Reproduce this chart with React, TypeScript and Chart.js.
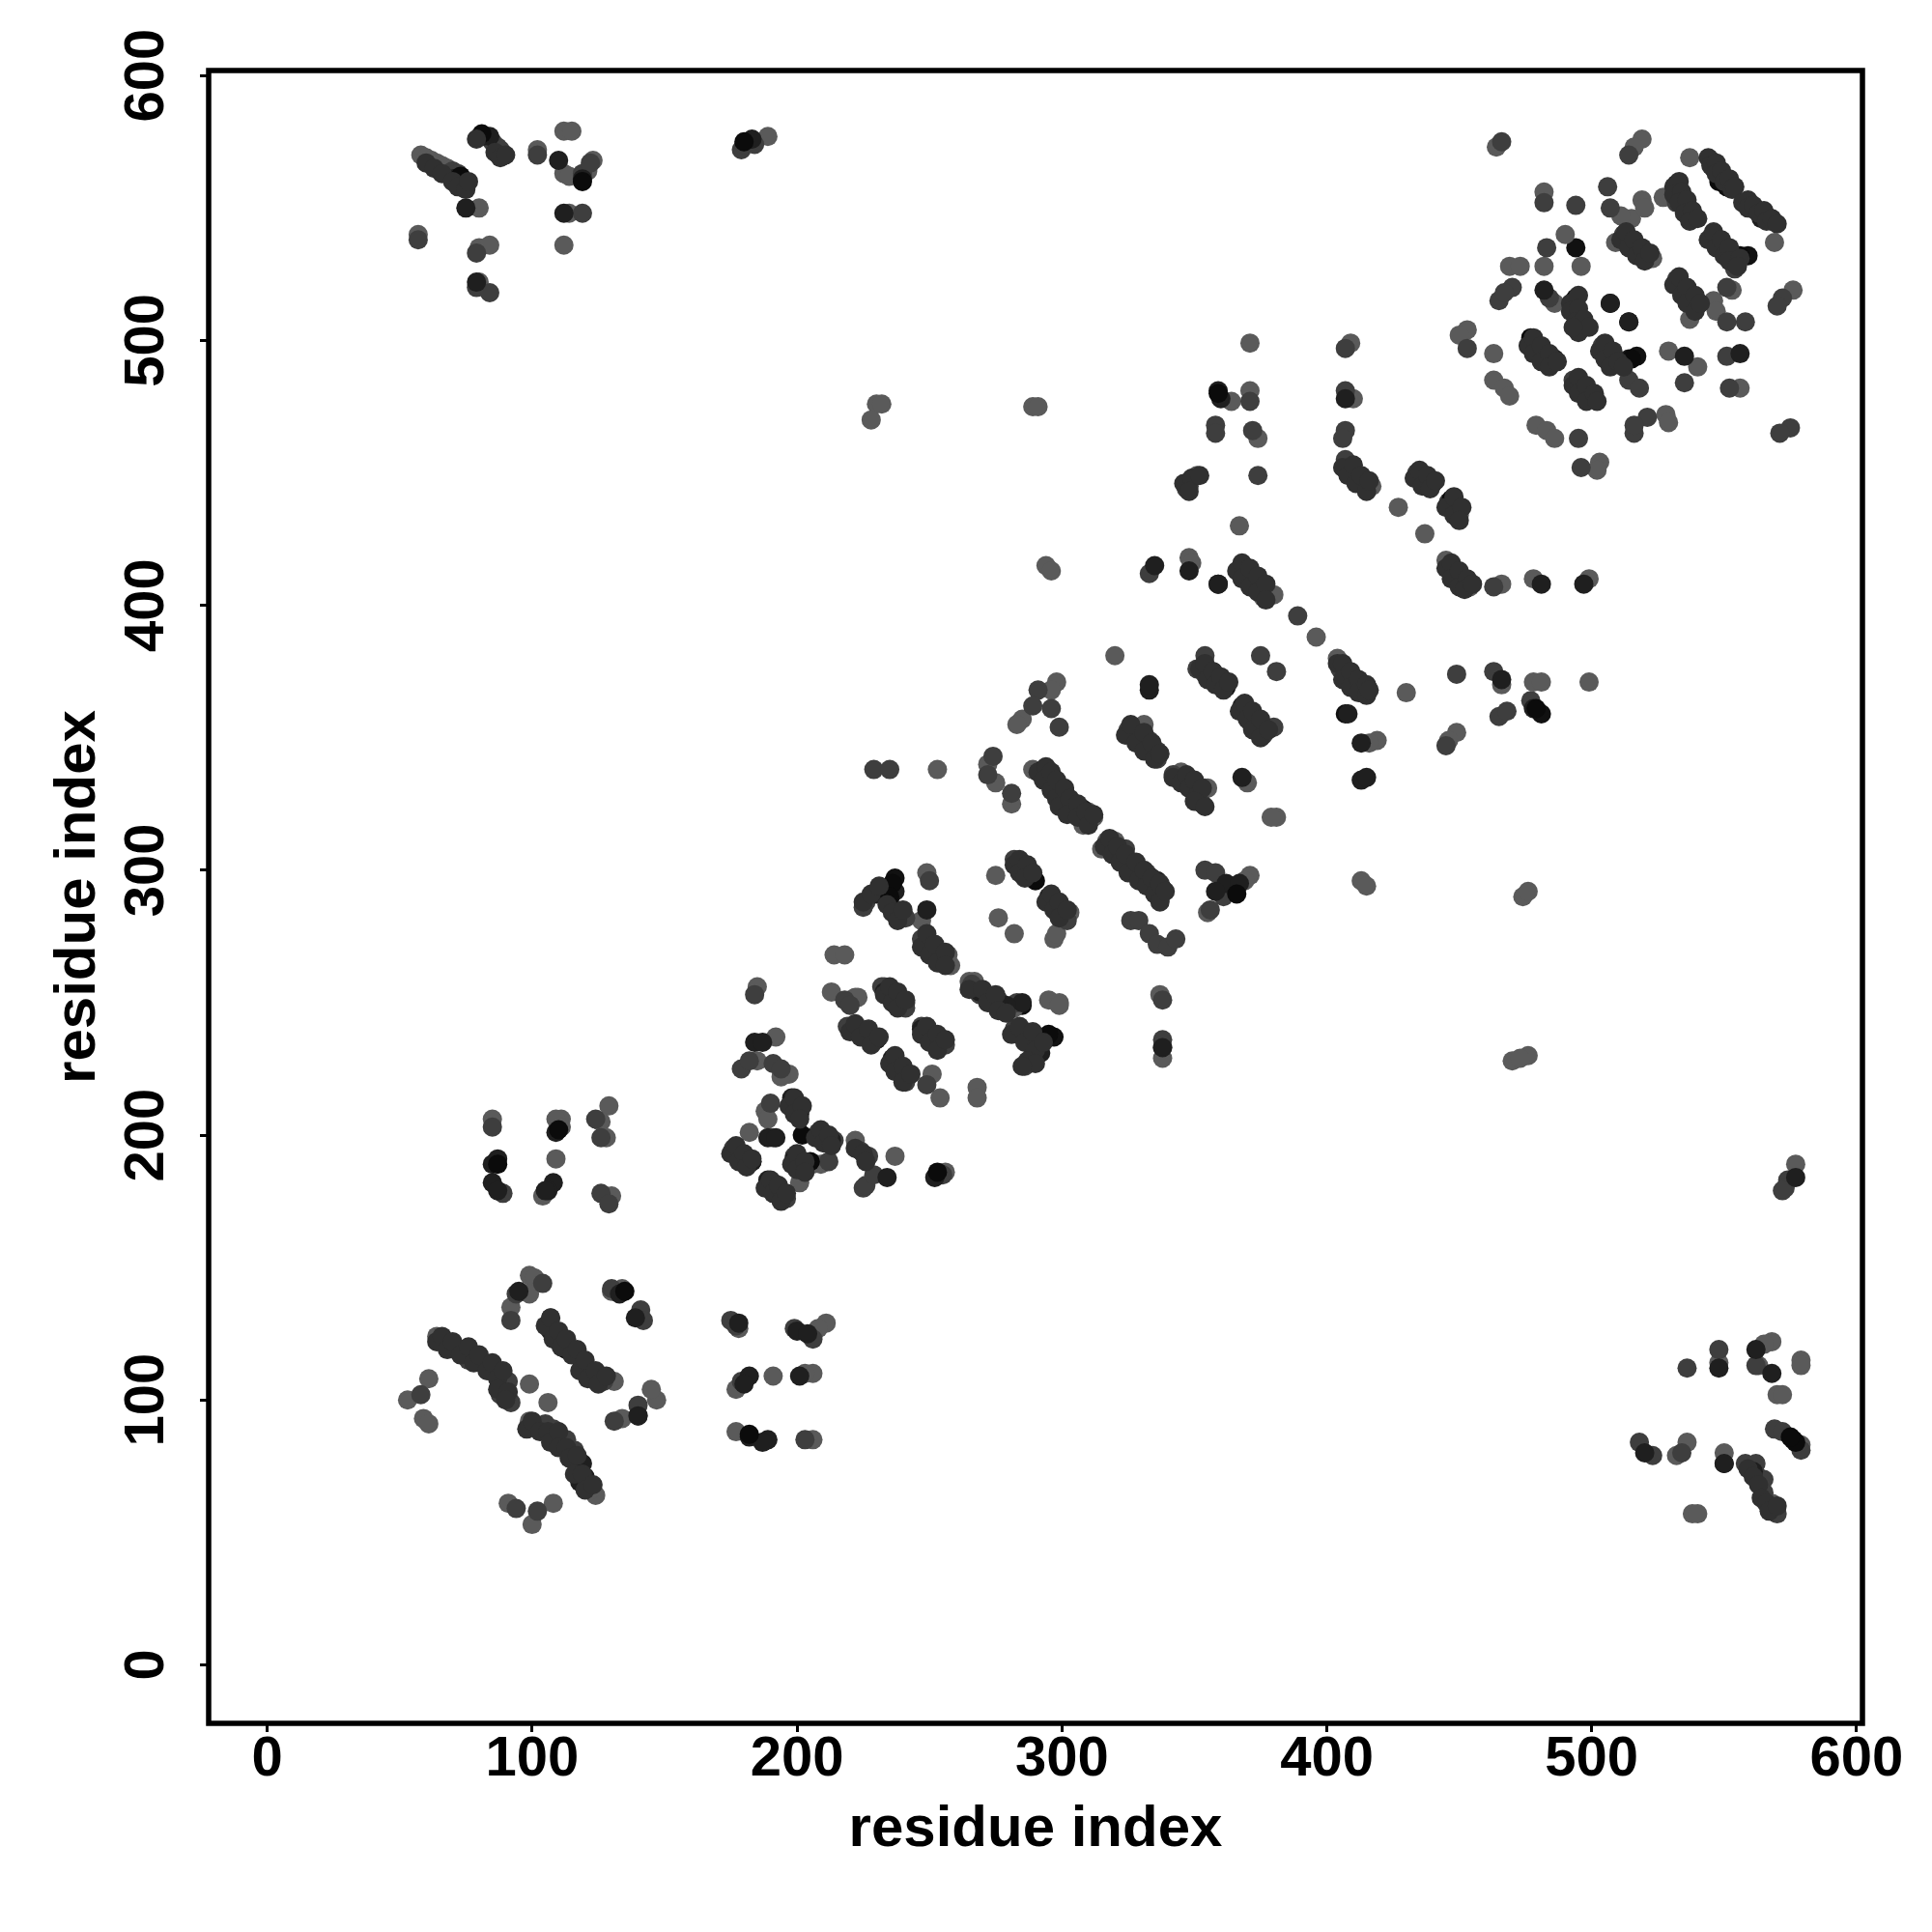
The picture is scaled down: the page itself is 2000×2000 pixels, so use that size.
import React, { useEffect, useRef } from "react";
import { Chart, registerables } from "chart.js";

Chart.register(...registerables);

const axisTicks = [0, 100, 200, 300, 400, 500, 600];
const axisTitle = "residue index";

const weakContacts: number[][] = [
[58,570],[60,569],[62,568],[64,567],[66,566],[68,565],[73,562],[75,559],[57,540],[80,550],[80,535],[84,536],[80,522],
[102,572],[112,579],[115,579],[112,563],[114,562],[121,564],[123,568],[114,548],[189,577],[112,536],
[464,573],[519,576],[516,573],[537,569],[569,537],[482,556],[515,546],[511,547],[519,553],[520,550],[527,554],[490,540],[496,528],[482,528],[469,528],[473,528],[509,537],[523,531],[486,514],[497,505],[537,508],[553,519],[546,515],[547,511],[576,519],[371,499],[409,499],[453,504],[450,502],[463,495],[529,496],[540,490],[556,482],[463,485],[467,482],[469,479],[371,481],[364,477],[410,478],[374,463],[479,468],[483,466],[486,463],[528,472],[529,469],[503,454],[502,451],[351,449],[417,445],[414,446],[427,437],[437,427],[450,434],[367,430],[294,415],[296,413],[348,418],[349,416],[445,417],[454,407],[466,408],[478,410],[499,410],[320,381],[380,404],[376,403],[396,388],[404,380],[430,367],[478,371],[481,371],[499,371],[466,370],[331,355],[354,331],[370,333],[419,349],[416,348],[449,352],[446,349],[298,371],[296,368],[285,357],[283,355],
[289,338],[253,338],[281,325],[272,340],[275,333],[312,320],[308,317],[310,322],[317,311],[320,311],[315,308],[371,298],[369,296],[355,284],[413,296],[415,294],[381,320],[379,320],[343,335],[345,337],[355,331],[275,298],[303,284],[301,283],[276,282],[282,276],[297,274],[298,276],[249,299],[247,281],[258,264],[254,266],[257,268],[214,268],[218,268],[265,258],[267,258],[222,252],[295,251],[299,250],[337,253],[185,256],[213,254],[223,252],[233,256],[227,238],[223,240],[237,228],[251,223],[268,218],[268,214],[254,214],[282,248],[277,247],[273,250],[299,249],[192,237],[185,228],[197,223],[194,222],[188,209],[189,206],[182,201],[191,199],[201,182],[206,189],[209,189],[222,198],[237,192],[256,186],
[85,206],[111,206],[109,206],[111,203],[109,191],[104,177],[129,211],[126,205],[128,199],[130,177],[99,147],[101,146],[92,135],[99,140],[107,131],[131,107],[134,142],[130,141],[64,124],[61,108],[53,100],[59,93],[61,91],[91,61],[108,61],[100,53],[99,106],[106,99],[102,89],[99,92],[124,64],[122,66],[147,100],[134,93],[145,104],[191,109],[206,110],[203,110],[177,104],[206,85],[177,88],[211,129],[208,127],[206,124],[178,127],
[577,189],[548,114],[579,115],[579,113],[568,122],[565,121],[563,113],[570,102],[572,102],[532,79],[536,84],[550,80],[538,57],[540,57],[569,60],[568,61],[579,83],[289,475],[291,475],[230,476],[228,470],[232,476],[474,290],[476,292],[470,228],[476,230],[473,229],[338,229],[338,233]
];

const midContacts: number[][] = [
[70,564],[72,563],[85,575],[87,573],[88,572],[89,570],[79,533],[57,538],[79,520],[84,518],[119,548],[119,563],[122,567],[102,570],[179,572],[180,574],[184,574],
[466,575],[514,570],[465,515],[484,516],[483,535],[482,552],[494,551],[506,558],[507,550],[545,539],[549,536],[554,527],[532,552],[535,550],[538,547],[512,540],[515,537],[519,533],[532,523],[536,516],[534,519],[470,520],[467,518],[551,520],[551,507],[558,507],[572,516],[570,513],[407,497],[453,497],[477,500],[504,498],[506,495],[509,493],[551,494],[493,485],[496,482],[514,485],[518,482],[535,484],[552,482],[371,477],[407,481],[358,468],[358,465],[372,466],[407,466],[406,463],[495,463],[521,471],[516,465],[516,468],[575,467],[571,465],[496,452],[348,445],[347,444],[374,449],[407,455],[409,452],[434,450],[436,448],[448,437],[446,439],[446,414],[449,411],[463,407],[333,412],[354,381],[351,376],[354,374],[375,381],[381,375],[389,396],[405,376],[449,374],[463,375],[380,354],[374,355],[376,351],[477,364],[465,358],[468,360],[445,347],[325,353],[333,349],[336,345],[336,342],[342,336],[347,334],[351,330],[291,368],[289,362],[299,354],[296,361],
[229,338],[235,338],[274,343],[272,336],[281,329],[304,323],[308,323],[301,324],[324,308],[328,302],[332,299],[337,289],[354,300],[358,299],[361,290],[356,285],[350,331],[353,325],[326,281],[329,281],[333,276],[336,272],[340,271],[343,274],[282,304],[284,302],[298,287],[302,281],[226,288],[225,286],[239,284],[241,282],[250,296],[247,274],[251,271],[266,257],[269,253],[276,251],[283,250],[232,256],[236,253],[241,250],[218,251],[220,249],[184,253],[241,248],[219,241],[247,241],[250,239],[256,234],[241,220],[249,219],[271,253],[282,240],[285,239],[286,226],[338,236],[179,225],[182,228],[191,227],[194,225],[190,212],[198,213],[208,201],[212,199],[214,198],[176,195],[177,193],[199,192],[212,190],[224,194],[227,192],[225,180],[226,181],[229,185],[193,178],[196,176],[255,185],
[85,203],[89,178],[126,199],[126,178],[129,174],[124,206],[94,140],[92,130],[104,144],[109,124],[119,114],[123,110],[127,107],[130,142],[141,134],[142,130],[66,122],[70,120],[76,115],[86,110],[91,107],[88,102],[92,99],[58,102],[94,59],[102,58],[105,91],[108,89],[110,86],[113,85],[121,68],[116,81],[131,92],[140,98],[140,94],[175,130],[177,128],[199,127],[206,123],[179,107],[203,85],
[574,183],[573,180],[572,179],[548,119],[536,112],[562,113],[518,84],[523,79],[534,80],[558,76],[562,76],[562,72],[565,70],[565,65],[570,57],[569,89],[572,88],[579,81],[338,251]
];

const darkContacts: number[][] = [
[70,561],[75,550],[81,577],[84,577],[79,522],[110,568],[119,561],[112,548],[183,576],
[494,509],[493,513],[514,507],[507,514],[532,556],[535,551],[549,561],[562,549],[564,546],[553,533],[549,535],[482,519],[496,481],[534,520],[539,513],[482,494],[486,493],[514,493],[535,494],[556,495],[500,478],[359,481],[360,478],[407,478],[335,415],[348,413],[359,408],[373,410],[376,408],[412,448],[411,449],[437,448],[449,437],[452,409],[449,412],[481,408],[497,408],[359,373],[357,375],[410,373],[466,372],[368,362],[371,359],[371,356],[408,359],[478,361],[413,348],[333,368],[333,370],[413,334],[415,335],[368,335],
[293,336],[295,335],[298,333],[301,330],[296,331],[308,323],[324,302],[327,300],[336,296],[362,295],[358,292],[367,295],[288,298],[285,300],[295,290],[297,288],[230,291],[237,292],[235,289],[249,285],[251,271],[255,268],[269,254],[233,254],[238,253],[230,236],[227,238],[252,236],[247,240],[236,229],[239,225],[288,237],[292,231],[289,230],[285,250],[279,249],[184,235],[187,235],[198,214],[189,199],[192,199],[180,192],[183,190],[199,191],[201,188],[209,200],[213,198],[234,184],[189,183],[191,182],[193,180],[252,184],
[85,189],[87,191],[85,182],[87,179],[108,182],[106,179],[109,201],[72,119],[75,119],[80,115],[84,113],[107,126],[110,122],[113,120],[120,113],[124,109],[133,140],[139,131],[105,179],[95,141],[119,76],[118,69],[120,71],[140,94],[182,109],[180,106],[201,109],[182,86],[189,85],[187,84],[200,126],[178,129],[204,125],
[577,184],[548,112],[562,119],[568,110],[550,76],[520,80],[576,85],[561,73],[338,233]
];

const strongContacts: number[][] = [
[73,562],[81,578],[119,560],[180,575],[545,568],[546,565],[549,562],[548,560],[558,552],[560,550],[566,547],[556,532],[494,516],[494,513],[498,480],[477,501],[480,498],[482,495],[532,559],[532,557],[359,480],[539,514],[515,493],[438,447],[447,440],[369,413],[371,411],[373,409],[412,369],[410,371],[408,373],[360,371],[479,361],[293,338],[295,336],[297,334],[299,332],[336,295],[334,297],[306,324],[304,325],[290,296],[288,298],[366,291],[236,295],[235,290],[295,238],[290,237],[288,238],[200,210],[198,212],[205,190],[202,190],[228,237],[253,186],[87,189],[110,202],[577,84],[575,86],[113,119],[111,121],[109,124],[123,109],[135,141],[182,87],[202,200]
];

const streakBody: number[][] = [
[544,569],[545,566],[547,567],[547,563],[549,564],[550,560],[552,561],[553,557],[554,558],[557,552],[559,553],[559,550],[561,551],[563,548],[565,549],[566,545],[568,546],[570,544],
[531,558],[533,560],[531,555],[534,556],[533,552],[536,553],[535,548],[538,549],[537,545],[540,546],[544,538],[546,541],[547,535],[549,538],[550,532],[552,535],[552,530],[556,531],[555,528],
[511,538],[513,541],[514,535],[516,538],[517,532],[519,535],[520,530],[522,533],[531,521],[533,524],[534,517],[536,520],[536,514],[539,517],[539,511],[541,514],
[492,514],[495,517],[492,511],[495,512],[494,507],[497,508],[495,503],[499,505],[493,505],[476,498],[478,501],[478,495],[481,498],[481,492],[484,495],[484,490],[487,492],
[503,496],[505,499],[505,493],[508,496],[507,490],[510,492],[512,490],[493,483],[495,486],[495,480],[498,483],[498,477],[501,480],[502,477],
[445,414],[447,416],[447,410],[450,413],[450,407],[453,410],[452,406],[455,408],[366,413],[368,416],[368,410],[371,414],[371,407],[374,411],[374,405],[377,408],[377,402],
[404,378],[406,378],[406,372],[409,375],[409,369],[412,372],[412,367],[415,370],[415,366],[416,368],[352,376],[354,378],[355,372],[357,375],[358,370],[360,373],[361,368],[363,371],
[367,360],[369,363],[370,357],[372,360],[372,353],[375,357],[375,350],[378,353],
[291,337],[294,339],[293,334],[296,337],[296,330],[298,334],[298,327],[301,331],[299,324],[303,327],[302,321],[306,325],[306,320],[309,322],[310,317],[312,321],
[316,309],[318,312],[319,306],[321,309],[322,303],[324,306],[325,299],[328,303],[329,296],[331,300],[332,294],[334,297],[335,291],[337,295],[337,288],[339,292],
[324,351],[326,355],[328,348],[331,352],[331,345],[334,348],[335,342],[337,344],[342,335],[345,333],[347,336],[348,331],[350,334],[351,328],[353,331],[350,326],[354,324],
[282,302],[284,304],[284,299],[287,302],[286,297],[289,299],[294,288],[296,291],[297,285],[299,288],[299,282],[302,285],
[225,288],[228,291],[231,294],[234,287],[236,284],[238,281],[240,285],[247,271],[249,276],[250,268],[252,272],[253,265],[256,269],[256,264],
[233,253],[235,256],[236,250],[238,254],[238,248],[241,251],[220,239],[222,242],[224,237],[227,240],[228,234],[231,237],[247,238],[249,241],[250,235],[253,238],[253,232],[256,236],
[235,227],[237,230],[237,224],[240,226],[240,220],[243,223],[265,255],[270,255],[272,250],[275,253],[276,247],[279,246],[281,238],[284,241],[286,235],[289,239],[290,232],[293,235],[287,228],[290,227],[285,226],
[197,211],[199,214],[199,208],[202,211],[201,206],[207,199],[209,202],[210,197],[212,200],[213,196],[175,193],[177,196],[178,190],[180,193],[181,188],[183,191],
[198,189],[200,193],[200,187],[203,190],[203,186],[188,180],[190,183],[191,178],[193,181],[194,175],[196,178],[222,195],[225,193],[226,190],
[64,122],[66,124],[68,119],[70,122],[73,117],[76,120],[78,114],[80,117],[83,111],[85,114],[87,108],[89,111],[87,104],[91,103],[90,100],
[105,128],[107,131],[108,123],[110,126],[111,120],[113,123],[115,117],[117,119],[118,111],[120,115],[121,108],[124,111],[125,106],[128,109],
[98,89],[100,92],[103,88],[106,88],[107,84],[110,88],[110,82],[113,82],[114,78],[117,79],[116,72],[119,72],[120,66],[123,68],
[559,74],[561,71],[563,68],[564,63],[566,61],[567,58],[570,60],[60,567],[63,565],[66,563],[70,560],[72,558],[75,557],[76,560],[79,576],[86,571],[88,569],[90,570],
[406,452],[408,449],[410,453],[411,446],[413,449],[415,443],[416,447],[433,448],[435,451],[436,445],[438,449],[439,444],[441,447],[445,437],[448,441],[448,434],[451,437],[450,432],[346,446],[349,448],[348,443],[352,449]
];

const peakContacts: number[][] = [
[568,545],[551,558],[559,532],[500,479],[440,446],[414,367],[362,369],[338,293],[297,237],[230,236],[183,190],[201,208],[481,359],[517,494],[514,507],[507,514],[494,535],[407,359],[359,408],[237,297],[285,249],[550,76]
];

const contactSets = [
  { data: streakBody, color: "#303030" },
  { data: strongContacts, color: "#0b0b0b" },
  { data: darkContacts, color: "#1f1f1f" },
  { data: midContacts, color: "#3e3e3e" },
  { data: weakContacts, color: "#5a5a5a" },
  { data: peakContacts, color: "#111111" },
];

const boxPlugin = {
  id: "box",
  afterDatasetsDraw(chart: any) {
    const { ctx, chartArea: a, scales } = chart;
    ctx.save();
    ctx.strokeStyle = "#000";
    ctx.lineWidth = 5.5;
    ctx.lineJoin = "miter";
    ctx.strokeRect(a.left, a.top, a.right - a.left, a.bottom - a.top);
    ctx.fillStyle = "#000";
    ctx.font = "bold 58px 'Liberation Sans'";
    ctx.textAlign = "center";
    ctx.textBaseline = "alphabetic";
    for (const t of scales.y.ticks) {
      ctx.save();
      ctx.translate(169, scales.y.getPixelForValue(t.value));
      ctx.rotate(-Math.PI / 2);
      ctx.fillText(String(t.value), 0, 0);
      ctx.restore();
    }
    ctx.restore();
  },
};

export default function App() {
  const ref = useRef<HTMLCanvasElement | null>(null);
  useEffect(() => {
    if (!ref.current) return;
    const font = { family: "'Liberation Sans'", size: 58, weight: "bold" as const };
    const titleFont = { family: "'Liberation Sans'", size: 60, weight: "bold" as const };
    const grid = { display: true, drawOnChartArea: false, drawTicks: true, tickLength: 9, tickWidth: 3, tickColor: "#000" };
    const chart = new Chart(ref.current, {
      type: "scatter",
      data: {
        datasets: contactSets.map((s) => ({
          data: s.data.map(([x, y]) => ({ x, y })),
          backgroundColor: s.color,
          borderWidth: 0,
          pointRadius: 10,
        })),
      },
      options: {
        animation: false,
        responsive: false,
        layout: { padding: { top: 73, right: 72, left: 0, bottom: 0 } },
        plugins: { legend: { display: false }, tooltip: { enabled: false } },
        scales: {
          x: {
            type: "linear",
            min: -22.1,
            max: 602.2,
            afterBuildTicks: (s: any) => { s.ticks = axisTicks.map((value) => ({ value })); },
            afterFit: (s: any) => { s.height = 216; },
            grid,
            border: { display: false },
            ticks: { color: "#000", font, padding: -6, maxRotation: 0, autoSkip: false },
            title: { display: true, text: axisTitle, color: "#000", font: titleFont, padding: { top: 0, bottom: 70 } },
          },
          y: {
            type: "linear",
            min: -22.1,
            max: 601.9,
            afterBuildTicks: (s: any) => { s.ticks = axisTicks.map((value) => ({ value })); },
            afterFit: (s: any) => { s.width = 216; },
            grid,
            border: { display: false },
            ticks: { display: false, font, autoSkip: false },
            title: { display: true, text: axisTitle, color: "#000", font: titleFont, padding: { top: 45, bottom: 0 } },
          },
        },
      },
      plugins: [boxPlugin],
    } as any);
    return () => chart.destroy();
  }, []);
  return (
    <div style={{ position: "absolute", left: 0, top: 0, width: 2000, height: 2000, background: "#fff" }}>
      <canvas ref={ref} width={2000} height={2000} style={{ display: "block" }} />
    </div>
  );
}
